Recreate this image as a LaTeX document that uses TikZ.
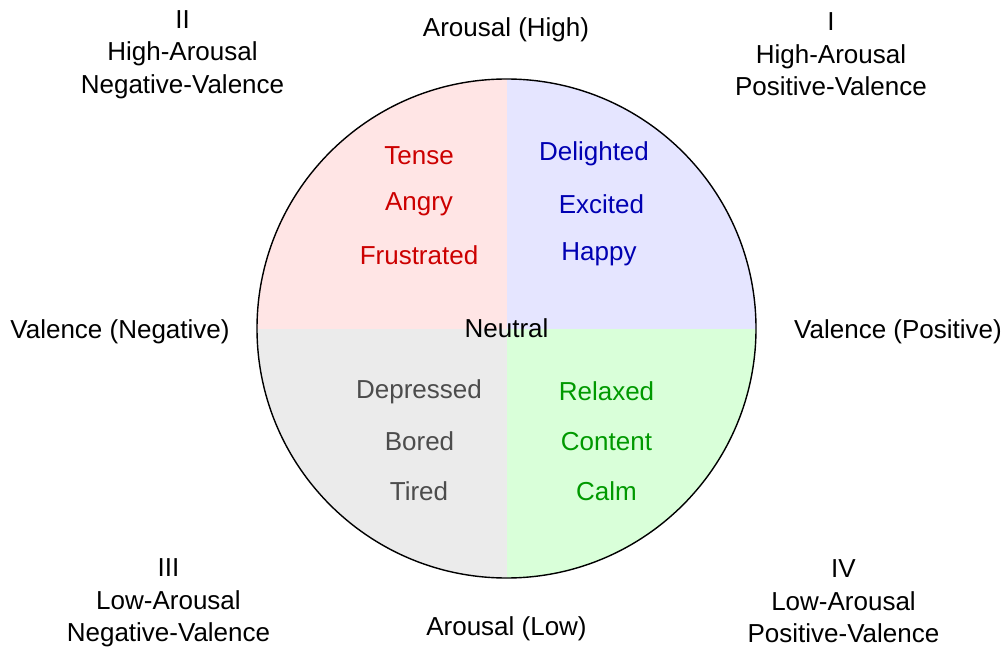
\documentclass[tikz,border=0pt]{standalone}
\usepackage{fontspec}
\setmainfont{Liberation Sans}
\begin{document}
\begin{tikzpicture}[x=1pt,y=-1pt,
  lbl/.style={inner sep=0pt, font=\fontsize{26}{32.5}\selectfont, align=center},
  word/.style={lbl, anchor=base},
  redw/.style={word, text=red!80!black},
  bluew/.style={word, text=blue!70!black},
  grayw/.style={word, text=black!70},
  greenw/.style={word, text=green!60!black}]
\useasboundingbox[fill=white] (0,0) rectangle (1004,647);
\coordinate (c) at (506.5,328.5);
% quadrant fills
\begin{scope}
  \clip (c) circle[radius=249.5];
  \fill[red!10]   (c) rectangle ++(-260,-260);
  \fill[blue!10]  (c) rectangle ++(260,-260);
  \fill[black!8]  (c) rectangle ++(-260,260);
  \fill[green!15] (c) rectangle ++(260,260);
\end{scope}
\node[circle, draw=black, line width=1.4pt, minimum size=499pt, inner sep=0pt] (circ) at (c) {};
% axis labels
\node[word] (ah) at (506,37) {Arousal (High)};
\node[word] (al) at (506.5,635) {Arousal (Low)};
\node[word] (vn) at (120,338) {Valence (Negative)};
\node[word] (vp) at (898,338) {Valence (Positive)};
\node[word] (neu) at (506.5,337) {Neutral};
% quadrant labels
\node[lbl] (q2) at (182.5,54.5) {II\\High-Arousal\\Negative-Valence};
\node[lbl] (q1) at (831,54.2) {I\\High-Arousal\\Positive-Valence};
\node[lbl] (q3) at (168.5,603) {III\\Low-Arousal\\Negative-Valence};
\node[lbl] (q4) at (843.5,601.5) {IV\\Low-Arousal\\Positive-Valence};
% emotions
\node[redw] (tense) at (419,165) {Tense};
\node[redw] (angry) at (419,211) {Angry};
\node[redw] (frus) at (419,264) {Frustrated};
\node[bluew] (deli) at (594,161) {Delighted};
\node[bluew] (exci) at (601.5,214) {Excited};
\node[bluew] (happ) at (599,261) {Happy};
\node[grayw] (depr) at (419,398) {Depressed};
\node[grayw] (bore) at (419.5,450) {Bored};
\node[grayw] (tire) at (419,500) {Tired};
\node[greenw] (rela) at (606.5,400.7) {Relaxed};
\node[greenw] (cont) at (606.5,450.7) {Content};
\node[greenw] (calm) at (606.5,500.7) {Calm};
\end{tikzpicture}
\end{document}
